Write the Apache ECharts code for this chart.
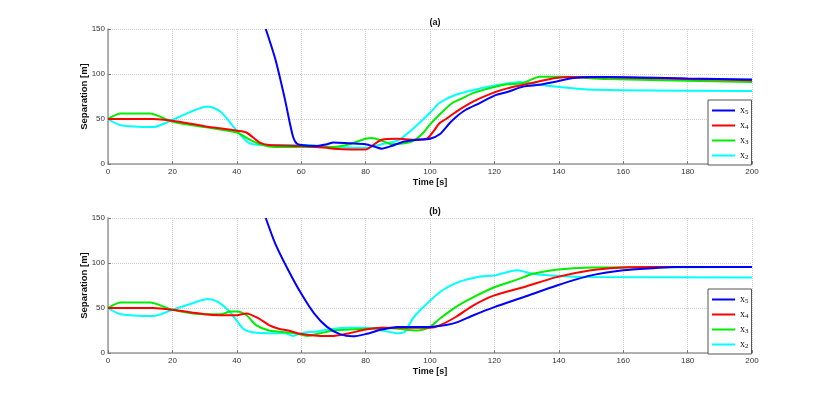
<!DOCTYPE html>
<html><head><meta charset="utf-8">
<script src="https://cdn.jsdelivr.net/npm/echarts@6/dist/echarts.min.js"></script>
<style>html,body{margin:0;padding:0;background:#fff}#c{width:830px;height:397px}</style>
</head><body><div id="c"></div>
<script>
const xTicks = [0, 20, 40, 60, 80, 100, 120, 140, 160, 180, 200];
const yTicks = [0, 50, 100, 150];
const seriesNames = ['x5', 'x4', 'x3', 'x2'];
const seriesColors = ['#0000ff', '#ff0000', '#00ee00', '#00ffff'];
const panelTitles = ['(a)', '(b)'];

// Panel (a)
const a_x5 = [[49,150],[52,116],[55,71],[56.5,45],[57.5,30],[58.5,23],[60,21],[65,20],[68,22],[70,24],[75,23],[80,22],[83,19],[85,17],[88,20],[92,25],[96,27],[100,28],[103,33],[106,45],[108,52],[111,60],[115.6,68],[120,76],[124,80],[129,86],[134,88],[139,91.5],[144.6,95.5],[150,96.7],[160,96.5],[180,95],[200,94]];
const a_x4 = [[0,50],[14,50],[20,48],[30,42],[40,37],[43,35],[47,24],[50,21],[60,20],[68,18],[70,17],[80,16],[82,20],[85,27],[90,28],[95,27],[99,28],[101,36],[103,45.5],[105,50],[108.3,58.5],[113.5,69.6],[120,79.6],[124,84],[129,88],[134,92],[139,95.5],[144,96.7],[160,96],[180,94.5],[200,93]];
const a_x3 = [[0,50],[4,56],[13,56],[20,47],[30,41],[40,35],[44,27],[48,21],[52,19],[60,19],[70,19],[75,22],[80,28],[82,29],[85,26],[88,22],[92,23],[95,26],[98,35],[100,44],[103,55],[107,68],[110,73],[113.5,79],[120,85.5],[124,88.5],[129,90],[134,97],[140,97],[155,94.4],[200,91]];
const a_x2 = [[0,50],[4,43],[14,41],[20,49],[31,64],[35,58],[40,37],[44,23],[50,21],[60,21],[70,19],[80,18],[85,22],[90,26],[92,31],[95,40],[100,57],[103,68],[108,77],[115.6,84],[120,87],[128,91],[134,88],[148,83],[160,82],[200,81]];

// Panel (b)
const b_x5 = [[49,150],[52,121],[56,92],[60,66],[64,44],[68,29],[72,21],[76,18.5],[80,21],[85,26],[90,29],[100,29],[105,31],[108.3,34],[113.5,42],[120,51],[129,62],[139.4,75],[149.7,86],[160,92],[170,94.4],[176,95.5],[200,95.5]];
const b_x4 = [[0,50],[14,50],[20,48],[30,43],[35,42],[40,42],[43,44],[47,38],[50,31],[53,27],[56,25],[60,21],[66,19],[70,19],[75,22],[80,26],[85,28],[90,28],[100,28],[103,30.7],[108,40],[113.5,53],[120,64],[129,73],[139,84],[150,92],[160,95],[170,95.5],[200,95.5]];
const b_x3 = [[0,50],[4,56],[13,56],[20,48],[30,43],[35,43],[38,46],[40,46],[43,42],[46,31],[50,25],[58,22],[62,19],[66,22],[70,25],[75,26],[80,27],[85,28],[90,27],[96,25],[100,29],[103,38],[108,51],[113.5,62],[120,73],[127,81.5],[132,88],[139,92.6],[150,95],[200,95.5]];
const b_x2 = [[0,50],[4,43],[14,41],[20,48],[26,55],[31,60],[34,57],[38,45],[42,27],[45,23],[50,22],[55,22],[57.5,19],[60,22],[65,24],[70,27],[75,28],[80,28],[85,25],[90,22],[92,23],[95,40],[100,58],[104,70],[109,79],[115.6,85],[120,86],[127,92],[132,88],[140,85.5],[150,84.4],[200,84]];

const panels = [[a_x5, a_x4, a_x3, a_x2], [b_x5, b_x4, b_x3, b_x2]];
const gridTops = [29, 218];
const gridH = 135;

const chart = echarts.init(document.getElementById('c'));
const font = 'Liberation Sans';
const grids = [], xAxes = [], yAxes = [], series = [], titles = [], legends = [];
panels.forEach((p, i) => {
  grids.push({left: 108, width: 644, top: gridTops[i], height: gridH});
  titles.push({text: panelTitles[i], left: 430, top: gridTops[i] - 16, textAlign: 'center',
    textStyle: {fontFamily: font, fontSize: 9, fontWeight: 'bold', color: '#111'}});
  xAxes.push({type: 'value', gridIndex: i, min: xTicks[0], max: xTicks[xTicks.length - 1], interval: 20,
    name: 'Time [s]', nameLocation: 'middle', nameGap: 14, nameMoveOverlap: false,
    nameTextStyle: {fontFamily: font, fontSize: 9, fontWeight: 'bold', color: '#111'},
    axisLine: {lineStyle: {color: '#999', width: 1.5}},
    axisTick: {inside: true, length: 3, lineStyle: {color: '#777'}},
    axisLabel: {fontFamily: font, fontSize: 8, color: '#333', margin: 4},
    splitLine: {show: true, lineStyle: {color: '#d0d0d0', type: 'dotted', width: 1}}});
  yAxes.push({type: 'value', gridIndex: i, min: yTicks[0], max: yTicks[yTicks.length - 1], interval: 50,
    name: 'Separation [m]', nameLocation: 'middle', nameGap: 19, nameMoveOverlap: false,
    nameTextStyle: {fontFamily: font, fontSize: 9.5, fontWeight: 'bold', color: '#111'},
    axisLine: {show: true, lineStyle: {color: '#999', width: 1.5}},
    axisTick: {show: true, inside: true, length: 3, lineStyle: {color: '#777'}},
    axisLabel: {fontFamily: font, fontSize: 8, color: '#333', margin: 3},
    splitLine: {show: true, lineStyle: {color: '#d0d0d0', type: 'dotted', width: 1}}});
  p.forEach((d, k) => {
    series.push({name: seriesNames[k], type: 'line', xAxisIndex: i, yAxisIndex: i, data: d,
      showSymbol: false, smooth: 0.25, clip: true, color: seriesColors[k],
      lineStyle: {width: 2, color: seriesColors[k]}, z: 10 - k});
  });
  legends.push({orient: 'vertical', left: 708, top: gridTops[i] + 71, width: 44,
    data: seriesNames, icon: 'rect', itemWidth: 23, itemHeight: 2, itemGap: 4,
    backgroundColor: '#fff', borderColor: '#555', borderWidth: 1, borderRadius: 0,
    padding: [5, 3, 4, 4], selectedMode: false,
    formatter: n => '{x|x}{s|' + n.slice(1) + '}',
    textStyle: {rich: {
      x: {fontFamily: 'Liberation Serif', fontSize: 10, color: '#111', lineHeight: 10},
      s: {fontFamily: 'Liberation Serif', fontSize: 7, color: '#111', padding: [4, 0, 0, 0], lineHeight: 10}
    }}});
});

chart.setOption({
  animation: false,
  title: titles, grid: grids, xAxis: xAxes, yAxis: yAxes, legend: legends, series: series
});
</script></body></html>
